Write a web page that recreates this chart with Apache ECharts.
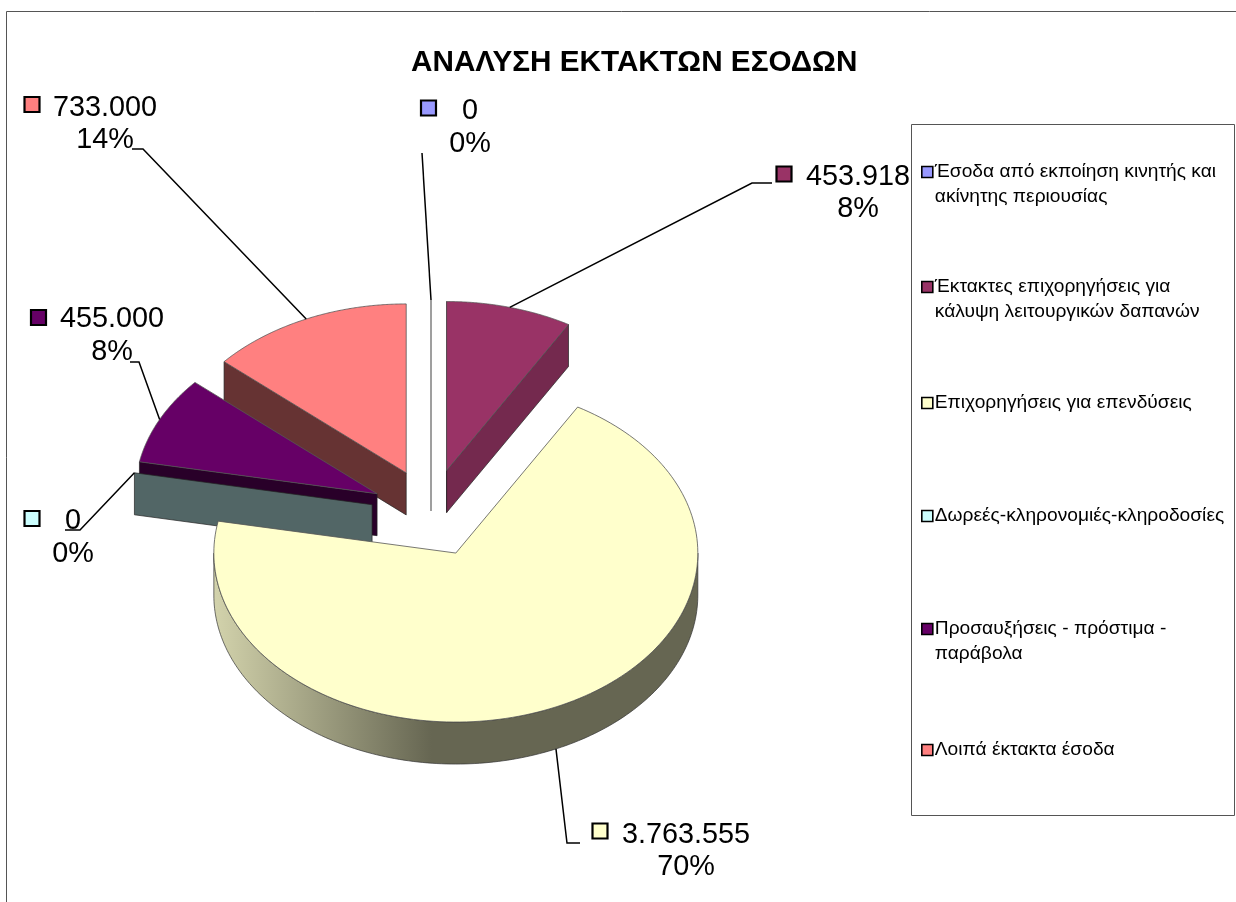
<!DOCTYPE html>
<html>
<head>
<meta charset="utf-8">
<style>html,body{margin:0;padding:0;background:#fff}#c{width:1236px;height:902px}</style>
<script src="https://cdn.jsdelivr.net/npm/echarts@6/dist/echarts.min.js"></script>
</head>
<body>
<div id="c"></div>
<script>
// ---- data ----
var categories = [
  'Έσοδα από εκποίηση κινητής και\nακίνητης περιουσίας',
  'Έκτακτες επιχορηγήσεις για\nκάλυψη λειτουργικών δαπανών',
  'Επιχορηγήσεις για επενδύσεις',
  'Δωρεές-κληρονομιές-κληροδοσίες',
  'Προσαυξήσεις - πρόστιμα -\nπαράβολα',
  'Λοιπά έκτακτα έσοδα'
];
var values = [0, 453918, 3763555, 0, 455000, 733000];
var titleText = 'ΑΝΑΛΥΣΗ ΕΚΤΑΚΤΩΝ ΕΣΟΔΩΝ';

// ---- styles and layout ----
var colors = ['#9999ff', '#993366', '#ffffcc', '#ccffff', '#660066', '#ff8080'];
var wallColors = ['#8a8a8a', '#74294e', '#666652', '#526666', '#290029', '#663333'];
var paintOrder = [6, 5, 4, 3, 2, 1];
var legendTops = [159.5, 274.5, 390.5, 503.5, 616.5, 737.5];
// key square centre, text centre x, line 1 y, line 2 y, leader label-side points
var labelLayout = [
  {key: [428.5, 108], tx: 470, y1: 111, y2: 144, lead: [[422, 153]]},
  {key: [784, 174], tx: 858, y1: 177, y2: 209, lead: [[772, 183], [752, 183]]},
  {key: [600, 831], tx: 686, y1: 835, y2: 867, lead: [[580, 843], [567, 843]]},
  {key: [32, 518.5],  tx: 73,  y1: 521, y2: 554, lead: [[65, 530], [80, 530]]},
  {key: [38.5, 317.5],  tx: 112, y1: 319, y2: 352, lead: [[130, 362], [139, 362]]},
  {key: [32, 104.5],  tx: 105, y1: 108, y2: 140, lead: [[132, 149], [143, 149]]}
];
var pie = {cx: 431, cy: 513, rx: 242, ry: 169, depth: 42, explodeX: 60, explodeY: 44};
var labelFont = 28.8;

var total = values.reduce(function (a, b) { return a + b; }, 0);
var angles = [];
(function () {
  var acc = 0;
  values.forEach(function (v) {
    var a0 = acc / total * 2 * Math.PI;
    acc += v;
    angles.push([a0, acc / total * 2 * Math.PI]);
  });
})();

function fmt(v) { return String(v).replace(/\B(?=(\d{3})+$)/g, '.'); }

function renderSlice(params, api) {
  var i = params.seriesIndex;
  var v = api.value(0);
  var a0 = angles[i][0], a1 = angles[i][1], mid = (a0 + a1) / 2;
  var ax = pie.cx + pie.explodeX * Math.sin(mid);
  var ay = pie.cy - pie.explodeY * Math.cos(mid);
  function rim(a) { return [ax + pie.rx * Math.sin(a), ay - pie.ry * Math.cos(a)]; }
  function down(p) { return [p[0], p[1] + pie.depth]; }
  var kids = [];
  var wallStroke = {stroke: '#222', lineWidth: 0.7};
  function wall(a) {
    var r = rim(a), apex = [ax, ay];
    kids.push({type: 'polygon', shape: {points: [apex, r, down(r), down(apex)]},
      style: Object.assign({fill: wallColors[i]}, v === 0 && a === 0 ? {stroke: '#888', lineWidth: 1.6} : wallStroke)});
  }
  // visible cut faces
  if (Math.sin(a0) <= 1e-9) wall(a0);
  if (v > 0 && Math.sin(a1) >= 0) wall(a1);
  // visible outer rim (front half of the ellipse)
  var f0 = Math.max(a0, Math.PI / 2), f1 = Math.min(a1, 3 * Math.PI / 2);
  if (f1 > f0) {
    var front = [], back = [], n = 160;
    for (var k = 0; k <= n; k++) {
      var p = rim(f0 + (f1 - f0) * k / n);
      front.push(p); back.unshift(down(p));
    }
    kids.push({type: 'polygon', shape: {points: front.concat(back)}, style: {
      stroke: '#333', lineWidth: 0.7,
      fill: new echarts.graphic.LinearGradient(1, 0, 0, 0, [
        {offset: 0, color: wallColors[i]},
        {offset: 0.55, color: wallColors[i]},
        {offset: 1, color: '#d3d3ac'}
      ])
    }});
  }
  // top face
  if (v > 0) {
    var pts = [[ax, ay]], m = 160;
    for (var q = 0; q <= m; q++) pts.push(rim(a0 + (a1 - a0) * q / m));
    kids.push({type: 'polygon', shape: {points: pts}, style: {fill: colors[i], stroke: '#555', lineWidth: 0.8}});
  }
  // leader line, anchored on the rim at the slice's mid angle
  var L = labelLayout[i];
  var anchor = rim(mid);
  if (Math.cos(mid) < 0) anchor = down(anchor);
  kids.push({type: 'polyline', shape: {points: L.lead.concat([anchor])},
    style: {fill: 'none', stroke: '#000', lineWidth: 1.5}});
  // label key and text
  kids.push({type: 'rect', shape: {x: L.key[0] - 7.5, y: L.key[1] - 7.5, width: 15, height: 15},
    style: {fill: colors[i], stroke: '#000', lineWidth: 2.2}});
  var pct = Math.round(v / total * 100) + '%';
  [[fmt(v), L.y1], [pct, L.y2]].forEach(function (t) {
    kids.push({type: 'text', style: {text: t[0], x: L.tx, y: t[1], fill: '#000', align: 'center', verticalAlign: 'middle',
      fontFamily: 'Liberation Sans, Arial, sans-serif', fontSize: labelFont}});
  });
  return {type: 'group', children: kids};
}

var series = categories.map(function (name, i) {
  return {
    type: 'custom', name: name, coordinateSystem: 'none', z: paintOrder[i] + 2,
    silent: true, clip: false, itemStyle: {color: colors[i]},
    data: [[values[i]]], renderItem: renderSlice
  };
});

var legends = categories.map(function (name, i) {
  var twoLines = name.indexOf('\n') >= 0;
  return {
    data: [name], left: 921, top: legendTops[i], orient: 'vertical', padding: 0,
    itemWidth: 11, itemHeight: twoLines ? 36 : 11, itemGap: 0,
    icon: twoLines ? 'path://M0 0H11V11H0ZM0 36L0 36' : 'rect',
    itemStyle: {borderColor: '#000', borderWidth: 1.6},
    selectedMode: false,
    textStyle: {fontFamily: 'Liberation Sans, Arial, sans-serif', fontSize: 19.2, lineHeight: 25, color: '#000', padding: [0, 0, 0, -3]}
  };
});

var chart = echarts.init(document.getElementById('c'), null, {renderer: 'canvas'});
chart.setOption({
  animation: false,
  backgroundColor: '#fff',
  title: {text: titleText, left: 411, top: 48, padding: 0,
    textStyle: {fontFamily: 'Liberation Sans, Arial, sans-serif', fontWeight: 'bold', fontSize: 29.7, color: '#000'}},
  legend: legends,
  graphic: [
    {type: 'rect', z: 0, shape: {x: 6.5, y: 11.5, width: 1300, height: 1000}, style: {fill: 'none', stroke: '#555', lineWidth: 1}},
    {type: 'rect', z: 0, shape: {x: 911.5, y: 124.5, width: 323, height: 691}, style: {fill: '#fff', stroke: '#555', lineWidth: 1}}
  ],
  series: series
});
</script>
</body>
</html>
